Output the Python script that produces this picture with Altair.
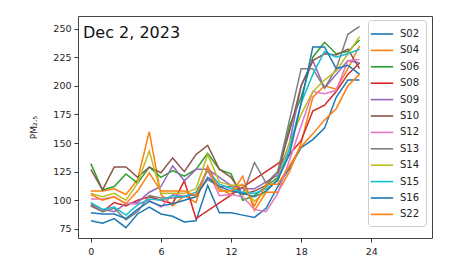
import altair as alt
import pandas as pd

hours = list(range(24))
stations = ["S02", "S04", "S06", "S08", "S09", "S10", "S12", "S13", "S14", "S15", "S16", "S22"]
colors = ["#1f77b4", "#ff7f0e", "#2ca02c", "#d62728", "#9467bd", "#8c564b",
          "#e377c2", "#7f7f7f", "#bcbd22", "#17becf", "#1f77b4", "#ff7f0e"]

S02 = [82, 80, 84, 76, 88, 94, 88, 86, 81, 82, 113, 89, 89, 87, 85, 93, 112, 128, 146, 153, 163, 190, 205, 205]
S04 = [108, 108, 110, 105, 118, 160, 105, 95, 104, 98, 130, 110, 105, 121, 91, 107, 107, 125, 150, 190, 200, 197, 215, 235]
S06 = [132, 109, 112, 123, 115, 129, 120, 126, 121, 127, 141, 127, 123, 100, 104, 112, 120, 165, 190, 225, 238, 228, 230, 240]
S08 = [96, 90, 98, 95, 100, 103, 100, 97, 117, 84, None, None, None, None, None, None, 132, 140, 152, 178, 183, 195, 210, 220]
S09 = [97, 92, 90, 97, 98, 107, 112, 130, 117, 127, 127, 120, 113, 110, 110, 116, 122, 150, 200, 222, 198, 210, 222, 220]
S10 = [127, 109, 129, 129, 120, 129, 124, 137, 125, 140, 148, 127, 120, 105, 108, 113, 125, 160, 200, 222, 228, 227, 232, 215]
S12 = [101, 101, 103, 97, 97, 100, 94, 105, 104, 105, 126, 104, 105, 103, 92, 90, 106, 135, 165, 195, 193, 196, 222, 223]
S13 = [95, 90, 93, 83, 90, 104, 102, 102, 103, 105, 118, 112, 112, 105, 133, 115, 125, 170, 215, 215, 198, 215, 245, 252]
S14 = [106, 103, 106, 100, 115, 143, 106, 106, 106, 110, 140, 116, 113, 113, 99, 108, 118, 150, 175, 195, 205, 213, 228, 243]
S15 = [98, 92, 94, 87, 96, 101, 100, 104, 103, 107, 126, 114, 110, 107, 106, 110, 117, 145, 185, 210, 230, 225, 228, 232]
S16 = [89, 88, 88, 84, 92, 99, 95, 97, 100, 103, 120, 112, 108, 106, 103, 108, 118, 140, 185, 234, 234, 215, 218, 210]
S22 = [105, 100, 103, 97, 108, 124, 108, 108, 108, 104, 128, 108, 108, 114, 95, 114, 114, 130, 147, 158, 170, 180, 200, 210]

series = [S02, S04, S06, S08, S09, S10, S12, S13, S14, S15, S16, S22]
rows = []
for name, vals in zip(stations, series):
    for h, v in zip(hours, vals):
        if v is not None:
            rows.append({"hour": h, "pm": v, "station": name})
df = pd.DataFrame(rows)

FONT = "DejaVu Sans"

lines = alt.Chart(df).mark_line(strokeWidth=1.5, clip=True).encode(
    x=alt.X("hour:Q", scale=alt.Scale(domain=[-1.1, 29.2], nice=False, zero=False),
            axis=alt.Axis(values=[0, 6, 12, 18, 24], title=None, grid=False, domain=False,
                          tickSize=4, labelFontSize=9.5, labelFont=FONT, labelColor="#222",
                          tickColor="#333", labelPadding=4)),
    y=alt.Y("pm:Q", scale=alt.Scale(domain=[67, 261], nice=False, zero=False),
            axis=alt.Axis(values=[75, 100, 125, 150, 175, 200, 225, 250], title="PM₂.₅",
                          grid=False, domain=False, tickSize=4, labelFontSize=9.5,
                          labelFont=FONT, labelColor="#222", tickColor="#333",
                          titleFont=FONT, titleFontSize=9, titleFontWeight="normal",
                          titleColor="#222", titlePadding=14, labelPadding=3)),
    color=alt.Color("station:N", scale=alt.Scale(domain=stations, range=colors),
                    sort=stations,
                    legend=alt.Legend(title=None, orient="none", legendX=290, legendY=4,
                                      symbolType="M-1.6,0H1.6", symbolSize=196,
                                      symbolStrokeWidth=1.6, labelOffset=10,
                                      labelFont=FONT, labelFontSize=10, labelColor="#222",
                                      rowPadding=3.4, padding=6, fillColor="white",
                                      strokeColor="#ccc", cornerRadius=3)),
    detail="station:N",
    order="hour:Q",
)

title_df = pd.DataFrame({"t": ["Dec 2, 2023"]})
title = alt.Chart(title_df).mark_text(align="left", baseline="alphabetic", font=FONT,
                                      fontSize=16, color="#111").encode(
    text="t:N", x=alt.value(5), y=alt.value(22))

chart = (lines + title).properties(
    width=354, height=222,
    autosize=alt.AutoSizeParams(type="none"),
    padding={"left": 70, "top": 8, "right": 10, "bottom": 20},
).configure_view(stroke="#444", strokeWidth=1)

chart.save("out.html", embed_options={"renderer": "svg", "actions": False})
